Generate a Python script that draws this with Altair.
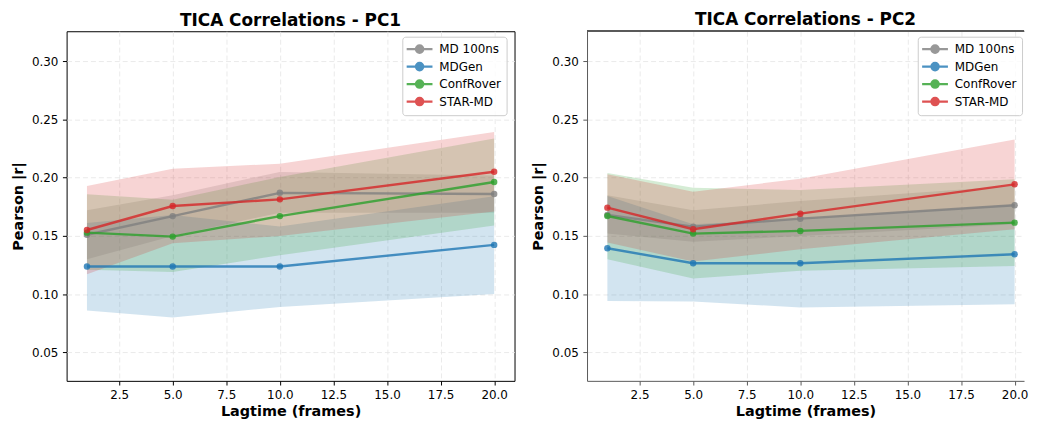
import altair as alt
import pandas as pd

lags = [1, 5, 10, 20]
methods = ["MD 100ns", "MDGen", "ConfRover", "STAR-MD"]
colors = ["#7f7f7f", "#1f77b4", "#2ca02c", "#d62728"]

# ---- PC1 ----
pc1_md_mean = [0.151, 0.167, 0.187, 0.186]
pc1_md_lo = [0.130, 0.150, 0.170, 0.170]
pc1_md_hi = [0.172, 0.185, 0.205, 0.202]

pc1_mdgen_mean = [0.1237, 0.1237, 0.1237, 0.1423]
pc1_mdgen_lo = [0.086, 0.080, 0.089, 0.100]
pc1_mdgen_hi = [0.161, 0.168, 0.158, 0.184]

pc1_conf_mean = [0.1528, 0.1494, 0.167, 0.1963]
pc1_conf_lo = [0.121, 0.119, 0.1334, 0.159]
pc1_conf_hi = [0.1857, 0.181, 0.2006, 0.2336]

pc1_star_mean = [0.1551, 0.1757, 0.1814, 0.2051]
pc1_star_lo = [0.117, 0.1437, 0.150, 0.171]
pc1_star_hi = [0.1929, 0.2077, 0.212, 0.2392]

# ---- PC2 ----
pc2_md_mean = [0.168, 0.158, 0.1648, 0.1763]
pc2_md_lo = [0.152, 0.145, 0.150, 0.160]
pc2_md_hi = [0.185, 0.172, 0.180, 0.193]

pc2_mdgen_mean = [0.1394, 0.1265, 0.1265, 0.1342]
pc2_mdgen_lo = [0.0942, 0.0937, 0.0885, 0.0913]
pc2_mdgen_hi = [0.1842, 0.160, 0.1645, 0.177]

pc2_conf_mean = [0.1671, 0.152, 0.1543, 0.1614]
pc2_conf_lo = [0.130, 0.1134, 0.120, 0.1242]
pc2_conf_hi = [0.204, 0.1914, 0.1894, 0.1986]

pc2_star_mean = [0.1743, 0.1557, 0.1691, 0.1943]
pc2_star_lo = [0.1443, 0.128, 0.1385, 0.1557]
pc2_star_hi = [0.203, 0.188, 0.1991, 0.2328]

y_ticks = [0.05, 0.10, 0.15, 0.20, 0.25, 0.30]
x_ticks = [2.5, 5.0, 7.5, 10.0, 12.5, 15.0, 17.5, 20.0]


def build(series):
    rows = []
    for m, (mean, lo, hi) in zip(methods, series):
        for i, lag in enumerate(lags):
            rows.append({"method": m, "lag": lag, "r": mean[i], "lo": lo[i], "hi": hi[i]})
    return pd.DataFrame(rows)


df1 = build([
    (pc1_md_mean, pc1_md_lo, pc1_md_hi),
    (pc1_mdgen_mean, pc1_mdgen_lo, pc1_mdgen_hi),
    (pc1_conf_mean, pc1_conf_lo, pc1_conf_hi),
    (pc1_star_mean, pc1_star_lo, pc1_star_hi),
])
df2 = build([
    (pc2_md_mean, pc2_md_lo, pc2_md_hi),
    (pc2_mdgen_mean, pc2_mdgen_lo, pc2_mdgen_hi),
    (pc2_conf_mean, pc2_conf_lo, pc2_conf_hi),
    (pc2_star_mean, pc2_star_lo, pc2_star_hi),
])

SYMBOL = "M -1.35 0 L 2.98 0 M 1.42 0 A 0.6 0.6 0 1 1 0.22 0 A 0.6 0.6 0 1 1 1.42 0 Z"
YDOM = [0.0255, 0.3258]
H = 352


def panel(df, title, width, xmax, spine, legend_x):
    cscale = alt.Scale(domain=methods, range=colors)
    legend = alt.Legend(
        title=None, orient="none", legendX=legend_x, legendY=5.5,
        symbolType=SYMBOL, symbolSize=144, symbolStrokeWidth=2.4,
        symbolOpacity=0.8, labelFontSize=12, labelFont="DejaVu Sans",
        labelColor="black", labelOffset=17.3, padding=5, rowPadding=0.6,
        fillColor="rgba(255,255,255,0.8)", strokeColor="#cccccc",
        cornerRadius=3,
    )
    xs = alt.Scale(domain=[0.05, xmax], nice=False, zero=False)
    ys = alt.Scale(domain=YDOM, nice=False, zero=False)
    xax = alt.X(
        "lag:Q", scale=xs,
        axis=alt.Axis(values=x_ticks, format=".1f", title="Lagtime (frames)",
                      domain=(spine != "black"), domainColor=spine,
                      tickColor=spine),
    )
    yax = alt.Y(
        "r:Q", scale=ys,
        axis=alt.Axis(values=y_ticks, format=".2f", title="Pearson |r|",
                      domain=(spine != "black"), domainColor=spine,
                      tickColor=spine),
    )
    areas = []
    for m, c in zip(methods, colors):
        areas.append(
            alt.Chart(df).transform_filter(alt.datum.method == m)
            .mark_area(opacity=0.2, color=c)
            .encode(x=xax, y=alt.Y("lo:Q", scale=ys), y2="hi:Q")
        )
    col = alt.Color("method:N", scale=cscale, legend=legend)
    lines = alt.Chart(df).mark_line(strokeWidth=2.4, opacity=0.8).encode(
        x=xax, y=yax, color=col, detail="method:N")
    pts = alt.Chart(df).mark_point(filled=True, size=42, opacity=0.8).encode(
        x=xax, y=yax, color=col)
    layers = areas + [lines, pts]
    if spine != "black":
        top = alt.Chart(df).mark_rule(color=spine, strokeWidth=1).encode(
            x=alt.value(0), x2=alt.value(width), y=alt.value(0))
        layers.append(top)
        view = alt.ViewBackground(stroke="transparent")
    else:
        view = alt.ViewBackground(stroke="black", strokeWidth=1)
    return alt.layer(*layers).properties(
        width=width, height=H, view=view,
        title=alt.TitleParams(title, fontSize=17, font="DejaVu Sans",
                              fontWeight="bold", anchor="middle", frame="group",
                              offset=1.5, color="black"),
    )


left = panel(df1, "TICA Correlations - PC1", 451, 20.95, "black", 338)
right = panel(df2, "TICA Correlations - PC2", 440, 20.44, "#5a5a5a", 333)

chart = alt.hconcat(left, right, spacing=15).resolve_scale(
    color="independent"
).resolve_legend(color="independent").properties(
    padding={"left": 2, "top": 1, "right": 0, "bottom": 0},
    background="white",
).configure_axis(
    labelFont="DejaVu Sans", labelFontSize=12, labelColor="black",
    titleFont="DejaVu Sans", titleFontSize=14.5, titleFontWeight="bold",
    titleColor="black", tickSize=4.2, tickWidth=1, labelPadding=4.5,
    titlePadding=4, grid=True, gridColor="#e4e4e4", gridDash=[5, 3],
    gridWidth=0.8,
).configure_axisY(titlePadding=6).configure_view(
    stroke="black"
)

chart.save("out.html", embed_options={"renderer": "svg", "actions": False})
